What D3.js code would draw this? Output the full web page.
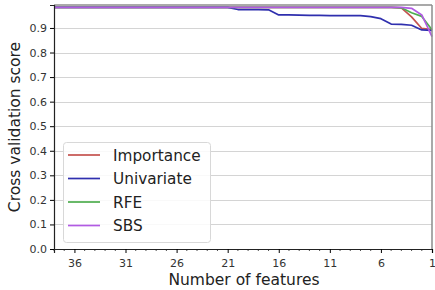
<!DOCTYPE html>
<html>
<head>
<meta charset="utf-8">
<script src="https://cdn.jsdelivr.net/npm/d3@7"></script>
<style>
  body { margin: 0; background: #fff; }
  svg { display: block; font-family: "DejaVu Sans", sans-serif; }
</style>
</head>
<body>
<svg id="chart" width="435" height="290"></svg>
<script>
// Number of features (x), descending from 38 to 1
const features = [38,37,36,35,34,33,32,31,30,29,28,27,26,25,24,23,22,21,20,19,18,17,16,15,14,13,12,11,10,9,8,7,6,5,4,3,2,1];

const importance = [0.984,0.984,0.984,0.984,0.984,0.984,0.984,0.984,0.984,0.984,0.984,0.984,0.984,0.984,0.984,0.984,0.984,0.984,0.984,0.984,0.984,0.984,0.984,0.984,0.984,0.984,0.984,0.984,0.984,0.984,0.984,0.984,0.984,0.984,0.982,0.945,0.898,0.893];
const univariate = [0.984,0.984,0.984,0.984,0.984,0.984,0.984,0.984,0.984,0.984,0.984,0.984,0.984,0.984,0.984,0.984,0.984,0.984,0.975,0.975,0.975,0.974,0.953,0.953,0.952,0.951,0.951,0.950,0.950,0.950,0.950,0.946,0.938,0.916,0.915,0.911,0.892,0.890];
const rfe        = [0.984,0.984,0.984,0.984,0.984,0.984,0.984,0.984,0.984,0.984,0.984,0.984,0.984,0.984,0.984,0.984,0.984,0.984,0.984,0.984,0.984,0.984,0.984,0.984,0.984,0.984,0.984,0.984,0.984,0.984,0.984,0.984,0.984,0.984,0.982,0.962,0.947,0.893];
const sbs        = [0.984,0.984,0.984,0.984,0.984,0.984,0.984,0.984,0.984,0.984,0.984,0.984,0.984,0.984,0.984,0.984,0.984,0.984,0.984,0.984,0.984,0.984,0.984,0.984,0.984,0.984,0.984,0.984,0.984,0.984,0.984,0.984,0.984,0.984,0.984,0.980,0.953,0.865];

const seriesNames = ["Importance", "Univariate", "RFE", "SBS"];
const seriesValues = [importance, univariate, rfe, sbs];
const seriesColors = ["#c4524f", "#2f2fae", "#4fad4f", "#b15be3"];

const xTicks = [36, 31, 26, 21, 16, 11, 6, 1];
const yTicks = [0.0, 0.1, 0.2, 0.3, 0.4, 0.5, 0.6, 0.7, 0.8, 0.9];

const svg = d3.select("#chart");
const m = { left: 54, right: 432, top: 5, bottom: 249 };

const x = d3.scaleLinear().domain([38, 1]).range([m.left, m.right]);
const y = d3.scaleLinear().domain([0, 0.9935]).range([m.bottom, m.top]);

// gridlines
svg.append("g")
  .selectAll("line")
  .data(yTicks)
  .join("line")
  .attr("x1", m.left).attr("x2", m.right)
  .attr("y1", d => Math.round(y(d)) + 0.5).attr("y2", d => Math.round(y(d)) + 0.5)
  .attr("stroke", "#d4d4d4").attr("stroke-width", 1);

// lines
const line = d3.line()
  .x((d, i) => x(features[i]))
  .y(d => y(d));

seriesValues.forEach((vals, k) => {
  svg.append("path")
    .datum(vals)
    .attr("d", line)
    .attr("fill", "none")
    .attr("stroke", seriesColors[k])
    .attr("stroke-width", 1.7)
    .attr("stroke-linejoin", "round");
});

// spines top/right (gray)
svg.append("line").attr("x1", m.left).attr("x2", m.right).attr("y1", m.top).attr("y2", m.top)
  .attr("stroke", "#8c8c8c").attr("stroke-width", 1.5);
svg.append("line").attr("x1", m.right).attr("x2", m.right).attr("y1", m.top).attr("y2", m.bottom)
  .attr("stroke", "#8c8c8c").attr("stroke-width", 1.5);

// x axis
const xAxis = d3.axisBottom(x).tickValues(xTicks).tickFormat(d3.format("d")).tickSize(4).tickPadding(6);
const gx = svg.append("g").attr("transform", `translate(0,${m.bottom})`).call(xAxis);
gx.selectAll("text").attr("font-size", 11).attr("fill", "#333").attr("font-family", "DejaVu Sans");
gx.select(".domain").attr("stroke", "#222").attr("stroke-width", 1.2);
// minor ticks
svg.append("g").selectAll("line")
  .data(features.filter(f => !xTicks.includes(f)))
  .join("line")
  .attr("x1", d => x(d)).attr("x2", d => x(d))
  .attr("y1", m.bottom).attr("y2", m.bottom + 2)
  .attr("stroke", "#222").attr("stroke-width", 0.8);

// y axis
const yAxis = d3.axisLeft(y).tickValues(yTicks).tickFormat(d3.format(".1f")).tickSize(4).tickPadding(3);
const gy = svg.append("g").attr("transform", `translate(${m.left},0)`).call(yAxis);
gy.selectAll("text").attr("font-size", 11).attr("fill", "#333").attr("font-family", "DejaVu Sans");
gy.select(".domain").attr("stroke", "#222").attr("stroke-width", 1.2);

// axis labels
svg.append("text")
  .attr("x", (m.left + m.right) / 2 + 1).attr("y", 285)
  .attr("text-anchor", "middle").attr("font-size", 15.5).attr("fill", "#222")
  .text("Number of features");
svg.append("text")
  .attr("transform", `translate(20,${(m.top + m.bottom) / 2}) rotate(-90)`)
  .attr("text-anchor", "middle").attr("font-size", 15.5).attr("fill", "#222")
  .text("Cross validation score");

// legend
const lg = svg.append("g").attr("transform", "translate(63,142)");
lg.append("rect")
  .attr("x", 0.5).attr("y", 0.5).attr("width", 147).attr("height", 100)
  .attr("rx", 3).attr("fill", "#fff").attr("fill-opacity", 0.85)
  .attr("stroke", "#d8d8d8");
seriesNames.forEach((name, k) => {
  const yy = 13 + k * 23.5;
  lg.append("line").attr("x1", 5).attr("x2", 37).attr("y1", yy).attr("y2", yy)
    .attr("stroke", seriesColors[k]).attr("stroke-width", 1.7);
  lg.append("text").attr("x", 50).attr("y", yy + 5.5)
    .attr("font-size", 15.3).attr("fill", "#222").text(name);
});
</script>
</body>
</html>
